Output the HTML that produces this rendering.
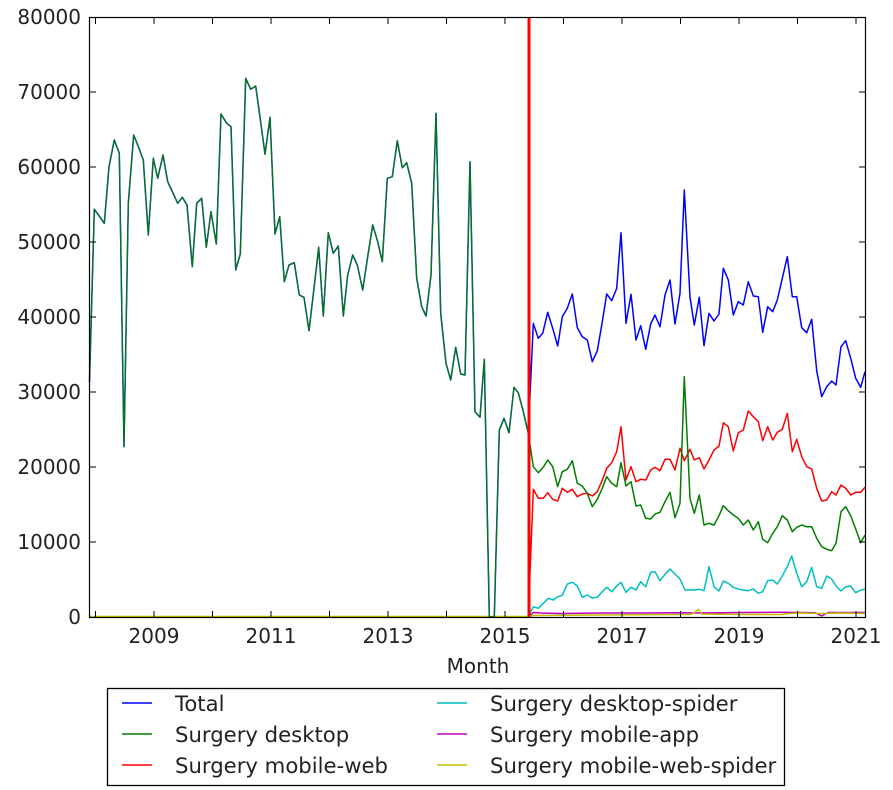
<!DOCTYPE html>
<html>
<head>
<meta charset="utf-8">
<style>
html,body{margin:0;padding:0;background:#fff;}
svg{display:block;}
text{font-family:"DejaVu Sans","Liberation Sans",sans-serif;font-size:20px;fill:#222;}
text.lg{font-size:21.2px;}
</style>
</head>
<body>
<svg width="893" height="790" viewBox="0 0 893 790" xmlns="http://www.w3.org/2000/svg">
<rect width="893" height="790" fill="#fff"/>
<g fill="none" stroke-width="1.5" stroke-linejoin="round">
<polyline stroke="#ff0000" points="89.5,617 528.3,617 533.3,489.3 538.3,498.3 543.3,498.3 547.7,492.7 552.7,499.3 557.7,501 562.3,488.3 567.3,492.3 572.3,489.3 577.3,496.7 582.3,494 587.3,493.3 592.3,496 597.3,491.7 602.3,480 606.7,468.3 611.7,462.7 616.7,451.7 621,426.7 626,480 631,466.7 636,481.7 640.7,479.3 645.7,480 650.7,470 655,467.3 660,470.7 665,459.3 670,459.3 675,470 680,448.3 684.3,460.7 690,449.3 694.3,460 699.3,457.7 704,469 709,460 714,450 719,446 723.3,422.7 728.3,426.7 733.3,451 738.3,432.7 743.3,430 748.3,411 753.3,416.7 758.3,421.7 762.7,440.7 767.7,426.7 772.7,440 777.3,432.3 782.3,429.3 787.3,413.3 792.3,451.7 796.7,439.3 801.7,456.7 806.7,466.7 811.7,469 816.7,488.3 821.7,501 826.7,500 831.7,491.7 836,495 841,485 845.7,488.3 850.7,495 855.7,492.3 860.7,492.3 865,487.3"/>
<polyline stroke="#00bfbf" points="89.5,617 528.3,617 533.3,606.7 538.3,608.3 543.3,603.3 548.3,598.3 553.3,600 557.7,596.7 562.3,595.3 567.3,584 572.3,582.3 577.3,586 582.3,597.3 587.3,595 592.3,598 597.3,597.3 602.3,591.7 606.7,587.3 611.7,591.7 616.7,586 621,582.3 626,592.3 631,587.3 636,590 640.7,581.7 645.7,586.7 650.7,572.3 655,571.7 660,580.7 665,574.3 670,569 675,574 680,579 685,590 690,590 694.3,590 699.3,589.3 704,590.7 709,566.7 714,586.7 719,591 723.3,581 728.3,583.3 733.3,587.3 738.3,589 743.3,590 748.3,590.7 753.3,589 758.3,593.3 762.7,591.7 767.7,580.7 772.7,580 777.3,584 782.3,576 787.3,566.7 791.7,556 796.7,573.3 801.7,586.7 806.7,581.7 811.7,567.3 816.7,586.7 821.7,588.3 826.7,576 831.7,579 836,586 841,591 845.7,586.7 850.7,586 855.7,592.7 860.7,590 865,589.3"/>
<polyline stroke="#bf00bf" points="89.5,617 528.3,617 533.3,612.5 540,613 560,613.5 600,613 640,613 680,612.7 700,613 740,612.5 780,612.3 800,612.5 815,612.7 821.7,616 828,612.5 865,612.5"/>
<polyline stroke="#bfbf00" points="89.5,616.5 528.3,616.5 533.3,615.5 600,615 690,614.5 694,613 698.3,609.3 702,614 740,614.5 780,614.5 790,613.5 800,613 820,613.5 840,613 865,613.5"/>
<polyline stroke="#0000ff" points="89.5,382 94.3,209.3 99.2,216 104.3,223.3 109,166.7 114.3,140 119.3,153.3 124,446.7 128.3,203.3 133.7,135 138.5,147 143.3,160 148.3,235 153.3,158.3 157.7,178.3 163,155 167.7,181.7 172.5,192 177.7,203.3 182.3,197.3 187,205 192.3,266.7 196.7,203.3 201.7,198.3 206.3,247.3 211,211.7 216.3,244 221,114 226.7,123.3 231,126.7 235.7,270 240.3,254 245.7,78.3 250.7,89.3 255.7,86 260.4,120 265,154.3 270,117.3 275,234 279.7,216.7 284.3,281.7 289,265 294.3,262.7 299.3,295 304,297.3 309,330.7 314,288.3 318.7,247.3 323.3,316 328.3,232.7 333.3,253.3 338.3,246 343.3,316 347.7,275 352.7,255 357.3,265 362.7,290 367.7,256.7 372.7,225 377.7,241.7 382.3,261.7 387.3,178.3 392.3,176.7 397.3,140.7 402.3,167.7 406.7,162.7 411.7,183.3 416.7,278.3 421.7,306.7 426,316 431,275 436,113.3 440.7,313.3 446,363.3 450.7,380 455.7,347.3 460.7,374 465,375 470,161.7 475,411.7 480,417.3 484.3,359.3 489.3,617 494.3,617 499.3,430 504,418.3 509,432.7 514,387.3 518.3,392.7 523.3,411.7 528.3,433.3 533.3,323.3 538.3,338.3 542.7,333.3 547.7,312.3 552.7,328.3 557.7,346 562.3,316.7 567.3,308.3 572.3,294 577.3,327.7 582.3,336.7 587.3,340 592.3,361.7 597.3,350.7 602.3,321.7 606.7,294 611.7,300.7 616.7,288.3 621,232.7 626,323.3 631,294.3 636,340 640.7,325.7 645.7,349.3 650.7,324 655,315 660,326.7 665,295 670,280 675,324 680,293.3 684.3,190 690,297.3 694.3,325 699.3,297.3 704,345.7 709,313.3 714,321 719,314 723.3,268.3 728.3,280 733.3,315 738.3,301.7 743.3,305 748.3,281.7 753.3,296 758.3,296.7 762.7,332.3 767.7,306.7 772.7,311.7 777.3,300 782.3,278.3 787.3,256.7 792.3,296.7 796.7,296.7 801.7,327.7 806.7,332.7 811.7,319.3 816.7,370.7 821.7,396.7 826.7,386.7 831.7,381 836,385 841,346.7 845.7,340.7 850.7,358.3 855.7,378.3 860.7,387.3 865,371.7"/>
<polyline stroke="#008000" stroke-width="1.2" points="89.5,382 94.3,209.3 99.2,216 104.3,223.3 109,166.7 114.3,140 119.3,153.3 124,446.7 128.3,203.3 133.7,135 138.5,147 143.3,160 148.3,235 153.3,158.3 157.7,178.3 163,155 167.7,181.7 172.5,192 177.7,203.3 182.3,197.3 187,205 192.3,266.7 196.7,203.3 201.7,198.3 206.3,247.3 211,211.7 216.3,244 221,114 226.7,123.3 231,126.7 235.7,270 240.3,254 245.7,78.3 250.7,89.3 255.7,86 260.4,120 265,154.3 270,117.3 275,234 279.7,216.7 284.3,281.7 289,265 294.3,262.7 299.3,295 304,297.3 309,330.7 314,288.3 318.7,247.3 323.3,316 328.3,232.7 333.3,253.3 338.3,246 343.3,316 347.7,275 352.7,255 357.3,265 362.7,290 367.7,256.7 372.7,225 377.7,241.7 382.3,261.7 387.3,178.3 392.3,176.7 397.3,140.7 402.3,167.7 406.7,162.7 411.7,183.3 416.7,278.3 421.7,306.7 426,316 431,275 436,113.3 440.7,313.3 446,363.3 450.7,380 455.7,347.3 460.7,374 465,375 470,161.7 475,411.7 480,417.3 484.3,359.3 489.3,617 494.3,617 499.3,430 504,418.3 509,432.7 514,387.3 518.3,392.7 523.3,411.7 528.3,433.3"/>
<polyline stroke="#008000" points="528.3,433.3 533.3,466.7 538.3,472.7 543.3,467.3 547.7,460 552.7,466.7 557.7,486.7 562.3,471.7 567.3,469.3 572.3,460.7 577.3,483.3 582.3,486 587.3,493.3 592.3,506.7 597.3,499.3 602.3,488.3 606.7,476.7 611.7,483.3 616.7,486.7 621,462.7 626,486 631,481.7 636,506 640.7,505 645.7,518.3 650.7,519 655,514 660,512.3 665,501.7 670,492.3 675,517.7 680,503.3 684.3,376.7 690,498.3 694.3,513.3 699.3,495 704,525 709,523.3 714,525 719,515.7 723.3,505.7 728.3,510.7 733.3,515 738.3,518.3 743.3,525 748.3,520 753.3,530 758.3,521.7 762.7,539.3 767.7,542.7 772.7,533.3 777.3,526.7 782.3,515.7 787.3,520 792.3,531.7 796.7,527.3 801.7,525 806.7,526.7 811.7,526.7 816.7,538.3 821.7,546.7 826.7,549.3 831.7,550.7 836,543.3 841,511.7 845.7,506.7 850.7,515.7 855.7,529 860.7,542.7 865,535"/>
</g>
<line x1="529" y1="17" x2="529" y2="617" stroke="#ff0000" stroke-width="3"/>
<rect x="89.5" y="17.5" width="776" height="600" fill="none" stroke="#000" stroke-width="1.2"/>
<g stroke="#000" stroke-width="1">
<line x1="95.5" y1="617" x2="95.5" y2="611"/><line x1="95.5" y1="18" x2="95.5" y2="24"/>
<line x1="154" y1="617" x2="154" y2="611"/><line x1="154" y1="18" x2="154" y2="24"/>
<line x1="212.5" y1="617" x2="212.5" y2="611"/><line x1="212.5" y1="18" x2="212.5" y2="24"/>
<line x1="271" y1="617" x2="271" y2="611"/><line x1="271" y1="18" x2="271" y2="24"/>
<line x1="329.5" y1="617" x2="329.5" y2="611"/><line x1="329.5" y1="18" x2="329.5" y2="24"/>
<line x1="388" y1="617" x2="388" y2="611"/><line x1="388" y1="18" x2="388" y2="24"/>
<line x1="446.5" y1="617" x2="446.5" y2="611"/><line x1="446.5" y1="18" x2="446.5" y2="24"/>
<line x1="505" y1="617" x2="505" y2="611"/><line x1="505" y1="18" x2="505" y2="24"/>
<line x1="563.5" y1="617" x2="563.5" y2="611"/><line x1="563.5" y1="18" x2="563.5" y2="24"/>
<line x1="622" y1="617" x2="622" y2="611"/><line x1="622" y1="18" x2="622" y2="24"/>
<line x1="680.5" y1="617" x2="680.5" y2="611"/><line x1="680.5" y1="18" x2="680.5" y2="24"/>
<line x1="739" y1="617" x2="739" y2="611"/><line x1="739" y1="18" x2="739" y2="24"/>
<line x1="797.5" y1="617" x2="797.5" y2="611"/><line x1="797.5" y1="18" x2="797.5" y2="24"/>
<line x1="856" y1="617" x2="856" y2="611"/><line x1="856" y1="18" x2="856" y2="24"/>
<line x1="90" y1="542" x2="96" y2="542"/><line x1="865" y1="542" x2="859" y2="542"/>
<line x1="90" y1="467" x2="96" y2="467"/><line x1="865" y1="467" x2="859" y2="467"/>
<line x1="90" y1="392" x2="96" y2="392"/><line x1="865" y1="392" x2="859" y2="392"/>
<line x1="90" y1="317" x2="96" y2="317"/><line x1="865" y1="317" x2="859" y2="317"/>
<line x1="90" y1="242" x2="96" y2="242"/><line x1="865" y1="242" x2="859" y2="242"/>
<line x1="90" y1="167" x2="96" y2="167"/><line x1="865" y1="167" x2="859" y2="167"/>
<line x1="90" y1="92" x2="96" y2="92"/><line x1="865" y1="92" x2="859" y2="92"/>
</g>
<g text-anchor="end">
<text x="81" y="624">0</text>
<text x="81" y="549">10000</text>
<text x="81" y="474">20000</text>
<text x="81" y="399">30000</text>
<text x="81" y="324">40000</text>
<text x="81" y="249">50000</text>
<text x="81" y="174">60000</text>
<text x="81" y="99">70000</text>
<text x="81" y="24">80000</text>
</g>
<g text-anchor="middle">
<text x="154" y="643">2009</text>
<text x="271" y="643">2011</text>
<text x="388" y="643">2013</text>
<text x="505" y="643">2015</text>
<text x="622" y="643">2017</text>
<text x="739" y="643">2019</text>
<text x="856" y="643">2021</text>
<text x="478" y="673">Month</text>
</g>
<rect x="107.5" y="688.5" width="677" height="97" fill="#fff" stroke="#000" stroke-width="1.3"/>
<g stroke-width="1.5">
<line x1="122" y1="703" x2="152" y2="703" stroke="#0000ff"/>
<line x1="122" y1="734" x2="152" y2="734" stroke="#008000"/>
<line x1="122" y1="765" x2="152" y2="765" stroke="#ff0000"/>
<line x1="437" y1="703" x2="467" y2="703" stroke="#00bfbf"/>
<line x1="437" y1="734" x2="467" y2="734" stroke="#bf00bf"/>
<line x1="437" y1="765" x2="467" y2="765" stroke="#bfbf00"/>
</g>
<text class="lg" x="175" y="711">Total</text>
<text class="lg" x="175" y="742">Surgery desktop</text>
<text class="lg" x="175" y="773">Surgery mobile-web</text>
<text class="lg" x="490" y="711">Surgery desktop-spider</text>
<text class="lg" x="490" y="742">Surgery mobile-app</text>
<text class="lg" x="490" y="773">Surgery mobile-web-spider</text>
</svg>
</body>
</html>
